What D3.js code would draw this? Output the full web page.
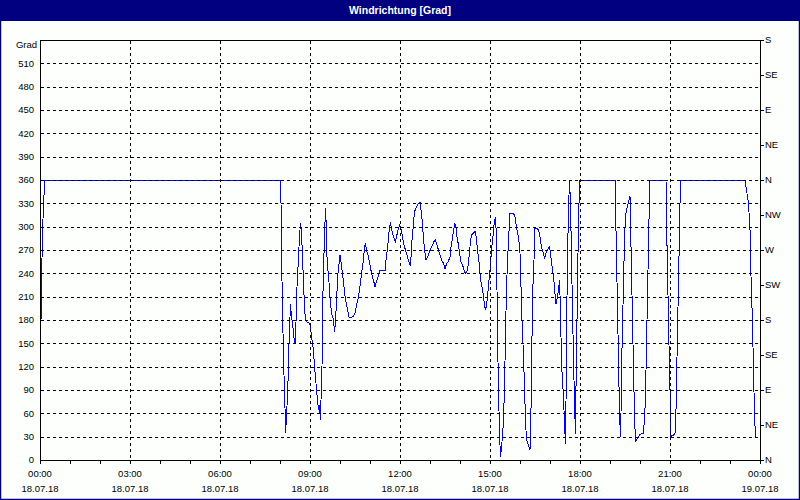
<!DOCTYPE html>
<html>
<head>
<meta charset="utf-8">
<script src="https://cdn.jsdelivr.net/npm/d3@7"></script>
<style>
  body { margin: 0; background: #fff; }
  svg { display: block; }
  text { font-family: "Liberation Sans", Arial, sans-serif; }
</style>
</head>
<body>
<svg id="chart" width="800" height="500"></svg>
<script>
// minutes since 18.07.18 00:00
var minutes = [0,2,4,6,8,10,480,
  482,483,485,487,490,491,493,495,497,498,500,501,503,505,507,509,511,512,513,516,519,521,523,525,527,529,531,533,539,541,543,545,547,549,551,553,555,557,559,561,562,564,565,567,569,571,572,573,575,577,
  580,583,587,589,591,593,596,600,602,605,608,611,615,618,621,627,630,633,637,640,643,647,649,651,653,657,660,663,667,670,673,677,680,685,690,692,695,697,699,701,703,705,708,711,713,717,719,
  722,725,728,731,735,738,741,742,744,747,749,753,757,760,762,765,767,770,772,775,778,781,785,788,791,793,797,800,803,807,810,813,817,820,822,825,827,830,832,834,837,839,842,845,849,851,855,858,861,863,867,871,873,875,878,880,882,885,887,889,891,893,895,897,899,
  900,903,907,909,911,913,914,915,917,919,921,923,925,927,929,931,933,937,940,947,950,953,957,960,962,964,967,969,971,973,977,980,981,983,984,985,988,990,993,997,1000,1003,1007,1009,1012,1015,1019,1021,1024,1027,1030,1032,1035,1037,1039,1041,1043,1047,1049,1051,1052,1053,1055,1057,1059,1061,1063,1065,1067,1069,1071,1072,1074,1076,1078,1080,
  1150,1151,1153,1155,1157,1159,1161,1162,1163,1165,1167,1169,1171,1173,1177,1180,1181,1183,1185,1187,1189,1191,1195,1199,1203,1207,1210,1212,1214,1216,1218,1220,
  1252,1253,1255,1257,1259,1261,1262,1263,1267,1270,1272,1274,1276,1278,1280,1282,
  1410,1413,1417,1420,1422,1425,1427,1429,1431];

var grad = [145,180,260,310,340,360,360,
  330,263,197,131,67,35,55,84,118,150,184,200,184,176,163,150,150,176,210,248,287,305,292,261,228,197,180,178,176,171,158,150,141,120,107,90,77,64,70,51,77,120,189,244,287,324,309,274,248,238,
  210,189,180,165,176,206,240,264,255,240,222,206,193,184,183,185,189,199,210,223,240,257,274,279,270,261,251,240,231,223,229,238,244,244,243,257,272,285,300,304,298,292,285,281,287,298,302,
  297,287,276,270,261,255,249,261,283,304,319,326,330,332,321,304,283,266,257,261,266,271,276,281,283,278,270,264,257,253,246,252,256,261,274,285,296,304,298,287,276,266,255,251,242,240,244,261,281,289,292,294,283,270,255,240,229,219,210,199,193,199,210,225,238,
  244,270,294,309,311,287,219,159,94,34,4,17,30,51,94,159,223,283,317,317,313,298,287,266,223,180,133,94,51,26,19,13,39,94,159,210,257,298,298,296,287,274,265,259,266,270,274,266,249,236,214,201,210,219,231,193,124,81,47,21,73,159,261,321,360,330,261,193,133,73,34,94,180,266,330,360,
  360,330,261,197,129,60,30,60,116,171,227,283,315,321,332,339,306,244,180,120,56,24,28,32,34,34,66,116,180,244,309,360,
  360,309,244,180,116,64,30,32,32,34,64,133,197,261,330,360,
  360,347,330,296,236,176,116,58,30];

var gradTicks = [0,30,60,90,120,150,180,210,240,270,300,330,360,390,420,450,480,510];
var dirTicks = [0,45,90,135,180,225,270,315,360,405,450,495,540];
var dirLabels = ["N","NE","E","SE","S","SW","W","NW","N","NE","E","SE","S"];
var hourTicks = [0,180,360,540,720,900,1080,1260,1440];
var timeLabels = ["00:00","03:00","06:00","09:00","12:00","15:00","18:00","21:00","00:00"];
var dateLabels = ["18.07.18","18.07.18","18.07.18","18.07.18","18.07.18","18.07.18","18.07.18","18.07.18","19.07.18"];

var svg = d3.select("#chart"),
    margin = {top: 40, right: 40, bottom: 40, left: 40},
    width = 800 - margin.left - margin.right,
    height = 500 - margin.top - margin.bottom;

var x = d3.scaleLinear().domain([0, 1440]).range([margin.left, margin.left + width]);
var y = d3.scaleLinear().domain([0, 540]).range([margin.top + height, margin.top]);

function px(v) { return Math.round(v) + 0.5; }

// window + title bar
svg.append("rect").attr("width", 800).attr("height", 500).attr("fill", "#fcfffc");
svg.append("rect").attr("width", 800).attr("height", 21).attr("fill", "#000080");
svg.append("rect")
    .attr("x", 0.5).attr("y", 0.5).attr("width", 799).attr("height", 499)
    .attr("fill", "none").attr("stroke", "#000080").attr("stroke-width", 1.5);
svg.append("text")
    .attr("x", 400).attr("y", 14)
    .attr("text-anchor", "middle")
    .attr("fill", "#fff")
    .attr("font-weight", "bold")
    .attr("font-size", "10.5px")
    .text("Windrichtung [Grad]");

// data line (drawn under the grid like the original)
var line = d3.line()
    .x(function(d, i) { return x(minutes[i]); })
    .y(function(d) { return y(d); });

svg.append("path")
    .datum(grad)
    .attr("d", line)
    .attr("fill", "none")
    .attr("stroke", "#0000ff")
    .attr("stroke-width", 1)
    .attr("shape-rendering", "crispEdges");

// grid
var grid = svg.append("g")
    .attr("stroke", "#000")
    .attr("stroke-dasharray", "3,3")
    .attr("shape-rendering", "crispEdges");

grid.selectAll(".hg")
  .data(gradTicks.filter(function(d) { return d > 0; }))
  .enter().append("line")
    .attr("x1", x(0) + 1).attr("x2", x(1440))
    .attr("y1", function(d) { return px(y(d)); })
    .attr("y2", function(d) { return px(y(d)); });

grid.selectAll(".vg")
  .data(hourTicks.slice(1, -1))
  .enter().append("line")
    .attr("y1", y(540) + 1).attr("y2", y(0))
    .attr("x1", function(d) { return px(x(d)); })
    .attr("x2", function(d) { return px(x(d)); });

// frame
svg.append("rect")
    .attr("x", px(x(0))).attr("y", px(y(540)))
    .attr("width", width).attr("height", height)
    .attr("fill", "none").attr("stroke", "#000")
    .attr("shape-rendering", "crispEdges");

// left axis labels
var left = svg.append("g").attr("font-size", "9.5px").attr("text-anchor", "end").attr("fill", "#000");
left.selectAll("text")
  .data(gradTicks)
  .enter().append("text")
    .attr("x", x(0) - 6)
    .attr("y", function(d) { return y(d); })
    .attr("dy", "0.35em")
    .text(function(d) { return d; });
left.append("text")
    .attr("x", x(0) - 3)
    .attr("y", 45)
    .attr("dy", "0.35em")
    .text("Grad");

// right axis: compass directions
var right = svg.append("g");
right.selectAll("line")
  .data(dirTicks)
  .enter().append("line")
    .attr("x1", x(1440)).attr("x2", x(1440) + 4)
    .attr("y1", function(d) { return px(y(d)); })
    .attr("y2", function(d) { return px(y(d)); })
    .attr("stroke", "#000")
    .attr("shape-rendering", "crispEdges");
right.selectAll("text")
  .data(dirTicks)
  .enter().append("text")
    .attr("x", x(1440) + 5)
    .attr("y", function(d) { return y(d); })
    .attr("dy", "0.35em")
    .attr("font-size", "9.5px")
    .text(function(d, i) { return dirLabels[i]; });

// bottom axis: hourly minor ticks, 3h labels
var bottom = svg.append("g");
bottom.selectAll("line")
  .data(d3.range(0, 1441, 60))
  .enter().append("line")
    .attr("x1", function(d) { return px(x(d)); })
    .attr("x2", function(d) { return px(x(d)); })
    .attr("y1", y(0)).attr("y2", y(0) + 4)
    .attr("stroke", "#000")
    .attr("shape-rendering", "crispEdges");

bottom.selectAll(".tl")
  .data(hourTicks)
  .enter().append("text")
    .attr("x", function(d) { return x(d); })
    .attr("y", 477)
    .attr("text-anchor", "middle")
    .attr("font-size", "9.5px")
    .text(function(d, i) { return timeLabels[i]; });

bottom.selectAll(".dl")
  .data(hourTicks)
  .enter().append("text")
    .attr("x", function(d) { return x(d); })
    .attr("y", 492)
    .attr("text-anchor", "middle")
    .attr("font-size", "9.5px")
    .text(function(d, i) { return dateLabels[i]; });
</script>
</body>
</html>
